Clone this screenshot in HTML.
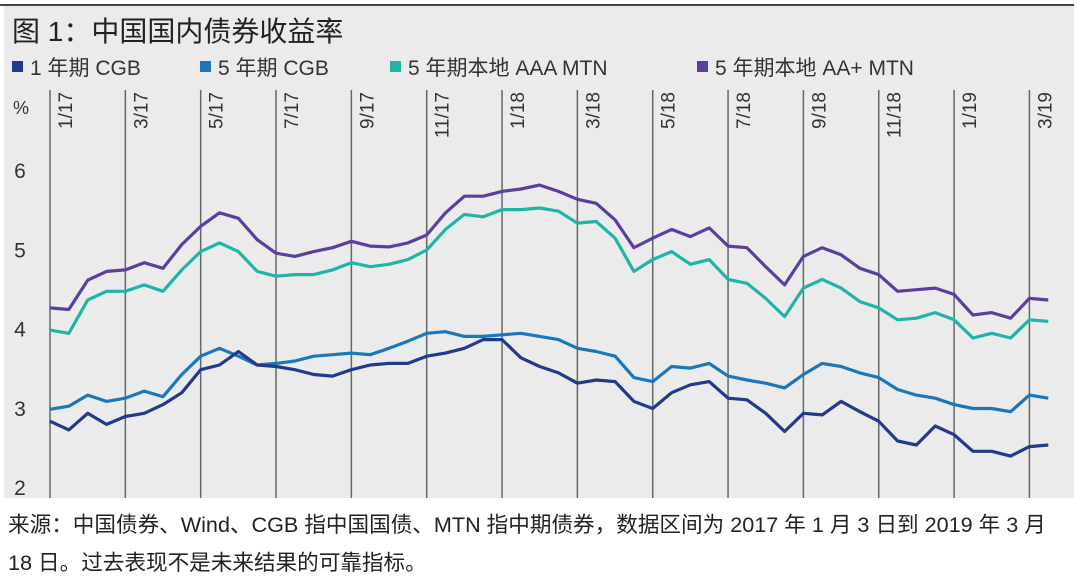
<!DOCTYPE html>
<html><head><meta charset="utf-8">
<style>
html,body{margin:0;padding:0;background:#fff;}
body{width:1080px;height:577px;overflow:hidden;position:relative;font-family:"Liberation Sans","Noto Sans CJK SC",sans-serif;}
svg text{font-family:"Liberation Sans","Noto Sans CJK SC",sans-serif;}
</style></head>
<body>
<svg width="1080" height="577" viewBox="0 0 1080 577">
  <rect x="4" y="6" width="1070" height="492" fill="#ebebeb"/>
  <line x1="0" y1="5" x2="1074" y2="5" stroke="#444" stroke-width="2"/>
  <text x="12" y="41" font-size="28" fill="#222">图 1：中国国内债券收益率</text>
  <g font-size="21" fill="#333">
    <g><rect x="12" y="61" width="11" height="11" fill="#23398b"/><text x="30" y="75">1 年期 CGB</text></g>
    <g><rect x="200" y="61" width="11" height="11" fill="#1b76bc"/><text x="218" y="75">5 年期 CGB</text></g>
    <g><rect x="390" y="61" width="11" height="11" fill="#1fb4a6"/><text x="408" y="75">5 年期本地 AAA MTN</text></g>
    <g><rect x="697" y="61" width="11" height="11" fill="#5c3e9e"/><text x="715" y="75">5 年期本地 AA+ MTN</text></g>
  </g>
  <text x="13" y="114" font-size="18" fill="#333">%</text>
  <g id="grid"></g>
  <g id="yticks"></g>
  <g id="series"></g>
  <text x="8" y="532" font-size="21.6" fill="#222">来源：中国债券、Wind、CGB 指中国国债、MTN 指中期债券，数据区间为 2017 年 1 月 3 日到 2019 年 3 月</text>
  <text x="8" y="570" font-size="21.6" fill="#222">18 日。过去表现不是未来结果的可靠指标。</text>
</svg>
<script>
const xTickLabels = ["1/17","3/17","5/17","7/17","9/17","11/17","1/18","3/18","5/18","7/18","9/18","11/18","1/19","3/19"];
const xTickMonths = [0,2,4,6,8,10,12,14,16,18,20,22,24,26];
const yTicks = [2,3,4,5,6];
const months = [];
for (let i = 0; i < 54; i++) months.push(i * 0.5);
const cgb1y = [2.83,2.72,2.93,2.79,2.89,2.93,3.04,3.19,3.48,3.54,3.71,3.54,3.52,3.48,3.42,3.40,3.48,3.54,3.56,
 3.56,3.65,3.69,3.75,3.86,3.86,3.63,3.52,3.44,3.31,3.35,3.33,3.08,2.99,3.19,3.29,3.33,
 3.12,3.10,2.93,2.70,2.93,2.91,3.08,2.95,2.83,2.58,2.53,2.77,2.66,2.45,2.45,2.39,2.51,2.53];
const cgb5y = [2.98,3.02,3.16,3.08,3.12,3.21,3.14,3.42,3.65,3.75,3.65,3.54,3.56,3.59,3.65,3.67,3.69,3.67,3.75,
 3.84,3.94,3.96,3.90,3.90,3.92,3.94,3.90,3.86,3.75,3.71,3.65,3.38,3.33,3.52,3.50,3.56,
 3.40,3.35,3.31,3.25,3.42,3.56,3.52,3.44,3.38,3.23,3.16,3.12,3.04,2.99,2.99,2.95,3.16,3.12];
const mtnAAA = [3.98,3.94,4.36,4.47,4.47,4.55,4.47,4.74,4.97,5.08,4.97,4.72,4.66,4.68,4.68,4.74,4.83,4.78,4.81,
 4.87,4.99,5.25,5.44,5.41,5.50,5.50,5.52,5.48,5.33,5.35,5.14,4.72,4.87,4.97,4.81,4.87,
 4.62,4.57,4.38,4.15,4.51,4.62,4.51,4.34,4.26,4.11,4.13,4.20,4.11,3.88,3.94,3.88,4.11,4.09];
const mtnAAplus = [4.26,4.24,4.61,4.72,4.74,4.83,4.76,5.06,5.29,5.46,5.39,5.12,4.95,4.91,4.97,5.02,5.10,5.04,5.03,
 5.08,5.18,5.46,5.67,5.67,5.73,5.76,5.81,5.73,5.63,5.58,5.37,5.02,5.14,5.25,5.16,5.27,
 5.04,5.02,4.78,4.55,4.91,5.02,4.93,4.76,4.68,4.47,4.49,4.51,4.43,4.17,4.20,4.13,4.38,4.36];

const NS = "http://www.w3.org/2000/svg";
function xScale(m){ return 50 + m * 37.67; }
function yScale(v){ return 487 - (v - 2) * 79.25; }

const grid = document.getElementById('grid');
xTickMonths.forEach((m, i) => {
  const x = xScale(m);
  const ln = document.createElementNS(NS, 'line');
  
  
  ln.setAttribute('x1', x); ln.setAttribute('x2', x);
  ln.setAttribute('y1', 90); ln.setAttribute('y2', 498);
  ln.setAttribute('stroke', '#666'); ln.setAttribute('stroke-width', '1.5');
  grid.appendChild(ln);
  const t = document.createElementNS(NS, 'text');
  
  
  t.setAttribute('transform', 'translate(' + (x + 22) + ',92) rotate(-90)');
  t.setAttribute('text-anchor', 'end');
  t.setAttribute('font-size', '19');
  t.setAttribute('fill', '#333');
  t.textContent = xTickLabels[i];
  grid.appendChild(t);
});

const yg = document.getElementById('yticks');
yTicks.forEach(v => {
  const t = document.createElementNS(NS, 'text');
  
  
  t.setAttribute('x', 20); t.setAttribute('y', yScale(v) + 8);
  t.setAttribute('text-anchor', 'middle');
  t.setAttribute('font-size', '21');
  t.setAttribute('fill', '#333');
  t.textContent = v;
  yg.appendChild(t);
});

const sg = document.getElementById('series');
function drawLine(vals, color, name){
  const p = document.createElementNS(NS, 'path');
  
  
  p.setAttribute('d', vals.map((v, i) => (i ? 'L' : 'M') + xScale(months[i]).toFixed(1) + ',' + yScale(v).toFixed(1)).join(''));
  p.setAttribute('fill', 'none');
  p.setAttribute('stroke', color);
  p.setAttribute('stroke-width', '3.2');
  p.setAttribute('stroke-linejoin', 'round');
  sg.appendChild(p);
}
drawLine(cgb5y, '#1b76bc', 'line-5y-cgb');
drawLine(cgb1y, '#23398b', 'line-1y-cgb');
drawLine(mtnAAA, '#1fb4a6', 'line-aaa-mtn');
drawLine(mtnAAplus, '#5c3e9e', 'line-aa-plus-mtn');
</script>
</body></html>
